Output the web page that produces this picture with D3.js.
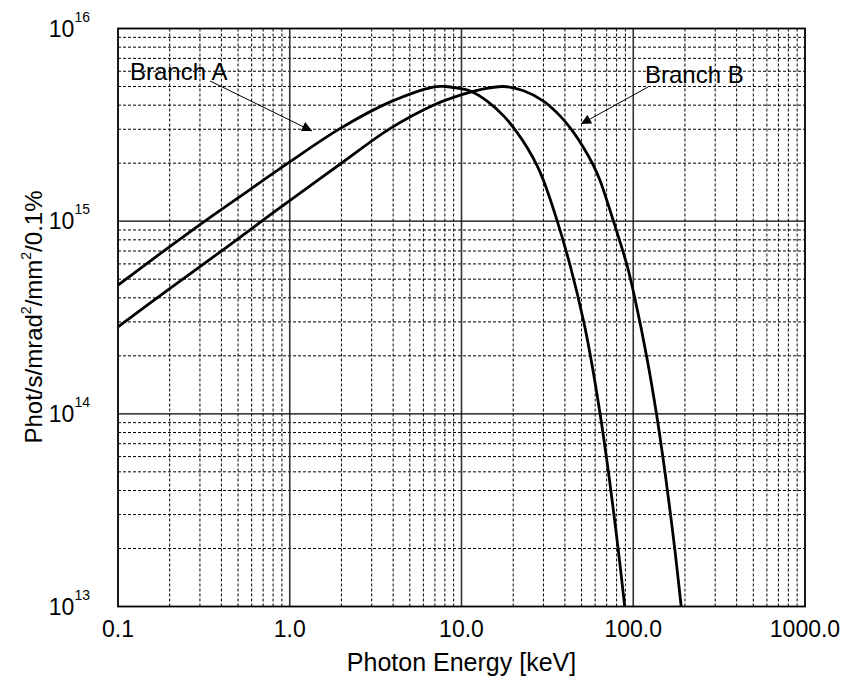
<!DOCTYPE html>
<html>
<head>
<meta charset="utf-8">
<script src="https://cdn.jsdelivr.net/npm/d3@7"></script>
<style>
  html, body { margin: 0; padding: 0; background: #fff; }
  svg { display: block; font-family: "Liberation Sans", Arial, Helvetica, sans-serif; }
</style>
</head>
<body>
<svg id="chart" width="846" height="677"></svg>
<script>
// ---- data ----
const energyA = [0.1, 0.2, 0.313, 0.5, 1.0, 1.97, 3.85, 6.85, 8.0, 9.84, 11.25, 14.1, 17.7, 21.0, 24.2, 27.5, 30.0, 36.1, 43.1, 51.5, 56.3, 64.1, 71.7, 77.0, 82.0, 89.2];
const fluxA   = [4.66e14, 7.38e14, 9.85e14, 1.32e15, 2.03e15, 3.03e15, 4.16e15, 4.97e15, 5.0e15, 4.88e15, 4.74e15, 4.2e15, 3.5e15, 2.9e15, 2.4e15, 1.95e15, 1.63e15, 1.0e15, 5.8e14, 3.0e14, 2.0e14, 1.0e14, 5.0e13, 3.05e13, 1.93e13, 1.0e13];

const energyB = [0.1, 0.2, 0.4, 0.687, 1.0, 1.97, 3.85, 6.85, 9.84, 12.9, 17.5, 23.0, 30.0, 37.7, 44.8, 51.5, 58.6, 64.0, 76.7, 92.5, 103, 120.5, 136.5, 154, 164.8, 174.6, 190.2];
const fluxB   = [2.83e14, 4.46e14, 7.0e14, 1.0e15, 1.28e15, 1.98e15, 3.03e15, 4.0e15, 4.51e15, 4.82e15, 5.0e15, 4.75e15, 4.2e15, 3.5e15, 2.9e15, 2.4e15, 1.95e15, 1.63e15, 1.0e15, 5.8e14, 3.85e14, 1.92e14, 1.0e14, 4.78e13, 3.0e13, 1.98e13, 1.0e13];

const xTickValues = [0.1, 1, 10, 100, 1000];
const xTickLabels = ["0.1", "1.0", "10.0", "100.0", "1000.0"];
const yTickValues = [1e13, 1e14, 1e15, 1e16];
const yTickExponents = ["13", "14", "15", "16"];
const seriesNames = ["Branch A", "Branch B"];
const xTitle = "Photon Energy [keV]";

// ---- layout ----
const svg = d3.select("#chart");
const L = 118, R = 805, T = 28.5, B = 606.5;

const x = d3.scaleLog().domain([0.1, 1000]).range([L, R]);
const y = d3.scaleLog().domain([1e13, 1e16]).range([B, T]);

// minor grid values
const minorX = [], minorY = [];
[0.1, 1, 10, 100].forEach(d => { for (let k = 2; k <= 9; k++) minorX.push(d * k); });
[1e13, 1e14, 1e15].forEach(d => { for (let k = 2; k <= 9; k++) minorY.push(d * k); });

const grid = svg.append("g");
grid.selectAll("line.mx").data(minorX).enter().append("line")
  .attr("x1", d => x(d)).attr("x2", d => x(d)).attr("y1", T).attr("y2", B)
  .attr("stroke", "#000").attr("stroke-width", 1).attr("stroke-dasharray", "3,2");
grid.selectAll("line.my").data(minorY).enter().append("line")
  .attr("y1", d => y(d)).attr("y2", d => y(d)).attr("x1", L).attr("x2", R)
  .attr("stroke", "#000").attr("stroke-width", 1).attr("stroke-dasharray", "3,2");

// major grid
grid.selectAll("line.Mx").data(xTickValues.slice(1, -1)).enter().append("line")
  .attr("x1", d => x(d)).attr("x2", d => x(d)).attr("y1", T).attr("y2", B)
  .attr("stroke", "#333").attr("stroke-width", 1.6);
grid.selectAll("line.My").data(yTickValues.slice(1, -1)).enter().append("line")
  .attr("y1", d => y(d)).attr("y2", d => y(d)).attr("x1", L).attr("x2", R)
  .attr("stroke", "#000").attr("stroke-width", 1.3);

// frame
svg.append("rect").attr("x", L).attr("y", T).attr("width", R - L).attr("height", B - T)
  .attr("fill", "none").attr("stroke", "#000").attr("stroke-width", 1.8);

// curves
const line = d3.line().x(d => x(d[0])).y(d => y(d[1])).curve(d3.curveCatmullRom.alpha(0.5));
const seriesData = [
  d3.zip(energyA, fluxA),
  d3.zip(energyB, fluxB)
];
svg.append("g").selectAll("path").data(seriesData).enter().append("path")
  .attr("d", line).attr("fill", "none").attr("stroke", "#000").attr("stroke-width", 2.8)
  .attr("stroke-linejoin", "round");

// x axis tick labels
svg.append("g").selectAll("text").data(xTickValues).enter().append("text")
  .attr("x", d => x(d)).attr("y", B + 30).attr("text-anchor", "middle")
  .attr("font-size", 23).text((d, i) => xTickLabels[i]);

// y axis tick labels (10^n)
const yl = svg.append("g").selectAll("text").data(yTickValues).enter().append("text")
  .attr("x", 90).attr("y", d => y(d) + 8).attr("text-anchor", "end").attr("font-size", 23);
yl.append("tspan").text("10");
yl.append("tspan").attr("font-size", 14).attr("dy", -15).text((d, i) => yTickExponents[i]);

// axis titles
svg.append("text").attr("x", (L + R) / 2).attr("y", 671).attr("text-anchor", "middle")
  .attr("font-size", 25).text(xTitle);

const yt = svg.append("text").attr("transform", "translate(42,317) rotate(-90)")
  .attr("text-anchor", "middle").attr("font-size", 24);
yt.append("tspan").text("Phot/s/mrad");
yt.append("tspan").attr("font-size", 14).attr("dy", -11).text("2");
yt.append("tspan").attr("dy", 11).text("/mm");
yt.append("tspan").attr("font-size", 14).attr("dy", -11).text("2");
yt.append("tspan").attr("dy", 11).text("/0.1%");

// annotations
svg.append("defs").append("marker").attr("id", "arr")
  .attr("viewBox", "0 0 10 10").attr("refX", 10).attr("refY", 5)
  .attr("markerWidth", 12).attr("markerHeight", 10).attr("markerUnits", "userSpaceOnUse")
  .attr("orient", "auto")
  .append("path").attr("d", "M0,0 L10,5 L0,10 Z").attr("fill", "#000");

const annots = [
  { name: seriesNames[0], tx: 130, ty: 80, anchor: "start", x1: 210, y1: 81, x2: 312, y2: 131 },
  { name: seriesNames[1], tx: 645, ty: 83, anchor: "start", x1: 648, y1: 87, x2: 581, y2: 124 }
];
const ag = svg.append("g");
annots.forEach(a => {
  ag.append("line").attr("x1", a.x1).attr("y1", a.y1).attr("x2", a.x2).attr("y2", a.y2)
    .attr("stroke", "#000").attr("stroke-width", 1).attr("marker-end", "url(#arr)");
  ag.append("text").attr("x", a.tx).attr("y", a.ty).attr("text-anchor", a.anchor)
    .attr("font-size", 24).text(a.name);
});
</script>
</body>
</html>
